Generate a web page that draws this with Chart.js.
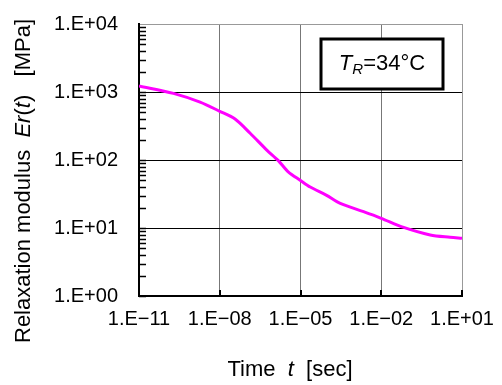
<!DOCTYPE html>
<html>
<head>
<meta charset="utf-8">
<script src="https://cdn.jsdelivr.net/npm/chart.js@4.4.1/dist/chart.umd.min.js"></script>
<style>
  html, body { margin: 0; padding: 0; background: #fff; }
  #wrap { width: 502px; height: 385px; }
</style>
</head>
<body>
<div id="wrap"><canvas id="relaxChart" width="502" height="385"></canvas></div>
<script>
// time [sec] and relaxation modulus Er(t) [MPa]
var times   = [1e-11, 1.9e-10, 1.86e-9, 1e-8, 3.7e-8, 1.35e-7, 5.6e-7, 1.5e-6, 3.5e-6, 1e-5, 2.3e-5, 9e-5, 3e-4, 2.2e-3, 1e-2, 6.8e-2, 0.66, 3.6, 10];
var modulus = [1225, 955, 710, 520, 400, 247, 140, 98, 67, 50, 40, 30.5, 23, 17.4, 13.9, 10.2, 7.9, 7.3, 7.05];

// tick positions
var xTicks = [1e-11, 1e-8, 1e-5, 1e-2, 1e1];
var yTicks = [1, 10, 100, 1000, 10000];

var FONT = '"Liberation Sans", Arial, sans-serif';

function expLabel(v) {
    var e = Math.round(Math.log10(v));
    var s = Math.abs(e) < 10 ? '0' + Math.abs(e) : '' + Math.abs(e);
    return '1.E' + (e < 0 ? '\u2212' : '+') + s;
}

// draw a run of [text, font, dy] pieces starting at x
function drawRuns(ctx, runs, x, y) {
    runs.forEach(function (r) {
        ctx.font = r[1];
        ctx.fillText(r[0], x, y + (r[2] || 0));
        x += ctx.measureText(r[0]).width;
    });
}
function runsWidth(ctx, runs) {
    var w = 0;
    runs.forEach(function (r) { ctx.font = r[1]; w += ctx.measureText(r[0]).width; });
    return w;
}

var decorPlugin = {
    id: 'decor',
    afterDraw: function (chart) {
        var ctx = chart.ctx, area = chart.chartArea;
        var xs = chart.scales.x, ys = chart.scales.y;
        ctx.save();

        // minor/major ticks on the y axis, pointing inside
        ctx.strokeStyle = '#000';
        ctx.lineWidth = 1.5;
        for (var d = 0; d < 4; d++) {
            for (var k = 1; k <= 9; k++) {
                var py = Math.round(ys.getPixelForValue(k * Math.pow(10, d))) + 0.5;
                ctx.beginPath();
                ctx.moveTo(area.left, py);
                ctx.lineTo(area.left + 7, py);
                ctx.stroke();
            }
        }
        // major ticks on the x axis, pointing up
        ctx.lineWidth = 2;
        xTicks.forEach(function (v) {
            var px = Math.round(xs.getPixelForValue(v));
            ctx.beginPath();
            ctx.moveTo(px, area.bottom);
            ctx.lineTo(px, area.bottom - 6);
            ctx.stroke();
        });

        // label box
        var bx = area.right - 141, by = area.top + 15, bw = 122, bh = 50;
        ctx.fillStyle = '#fff';
        ctx.fillRect(bx, by, bw, bh);
        ctx.lineWidth = 3;
        ctx.strokeRect(bx, by, bw, bh);
        ctx.fillStyle = '#000';
        ctx.textBaseline = 'middle';
        var boxRuns = [
            ['T', 'italic 22px ' + FONT],
            ['R', 'italic 15px ' + FONT, 6],
            ['=34\u00B0C', '22px ' + FONT]
        ];
        var bwText = runsWidth(ctx, boxRuns);
        drawRuns(ctx, boxRuns, bx + bw / 2 - bwText / 2, by + bh / 2);

        // x axis title
        var xRuns = [
            ['Time  ', '22px ' + FONT],
            ['t', 'italic 22px ' + FONT],
            ['  [sec]', '22px ' + FONT]
        ];
        var xw = runsWidth(ctx, xRuns);
        drawRuns(ctx, xRuns, 290 - xw / 2, 370);

        // y axis title (rotated)
        var yRuns = [
            ['Relaxation modulus  ', '22px ' + FONT],
            ['Er', 'italic 22px ' + FONT],
            ['(', '22px ' + FONT],
            ['t', 'italic 22px ' + FONT],
            [')', '22px ' + FONT],
            ['   [MPa]', '22px ' + FONT]
        ];
        var yw = runsWidth(ctx, yRuns);
        ctx.translate(24, 181);
        ctx.rotate(-Math.PI / 2);
        drawRuns(ctx, yRuns, -yw / 2, 0);
        ctx.restore();
    }
};

var points = times.map(function (t, i) { return { x: t, y: modulus[i] }; });

new Chart(document.getElementById('relaxChart'), {
    type: 'line',
    data: {
        datasets: [{
            data: points,
            borderColor: '#FF00FF',
            borderWidth: 3,
            pointRadius: 0,
            tension: 0.3,
            fill: false
        }]
    },
    options: {
        responsive: false,
        animation: false,
        events: [],
        layout: { padding: { top: 24, right: 40, left: 0, bottom: 0 } },
        plugins: { legend: { display: false }, tooltip: { enabled: false } },
        scales: {
            x: {
                type: 'logarithmic',
                min: 1e-11,
                max: 10,
                afterBuildTicks: function (axis) {
                    axis.ticks = xTicks.map(function (v) { return { value: v }; });
                },
                afterFit: function (axis) {
                    axis.height = 89;
                    axis.paddingLeft = 0;
                    axis.paddingRight = 0;
                },
                ticks: {
                    autoSkip: false,
                    maxRotation: 0,
                    padding: 11,
                    color: '#000',
                    font: { family: FONT, size: 20 },
                    callback: function (v) { return expLabel(v); }
                },
                grid: {
                    drawTicks: false,
                    lineWidth: 1,
                    color: function (c) { return c.tick && c.tick.value === 10 ? '#999' : '#777'; }
                },
                border: { color: '#000', width: 2 }
            },
            y: {
                type: 'logarithmic',
                min: 1,
                max: 10000,
                afterBuildTicks: function (axis) {
                    axis.ticks = yTicks.map(function (v) { return { value: v }; });
                },
                afterFit: function (axis) {
                    axis.width = 139;
                    axis.paddingTop = 0;
                    axis.paddingBottom = 0;
                },
                ticks: {
                    autoSkip: false,
                    padding: 21,
                    color: '#000',
                    font: { family: FONT, size: 20 },
                    callback: function (v) { return expLabel(v); }
                },
                grid: {
                    drawTicks: false,
                    lineWidth: 1,
                    color: function (c) { return c.tick && c.tick.value === 10000 ? '#999' : '#000'; }
                },
                border: { color: '#000', width: 2 }
            }
        }
    },
    plugins: [decorPlugin]
});
</script>
</body>
</html>
